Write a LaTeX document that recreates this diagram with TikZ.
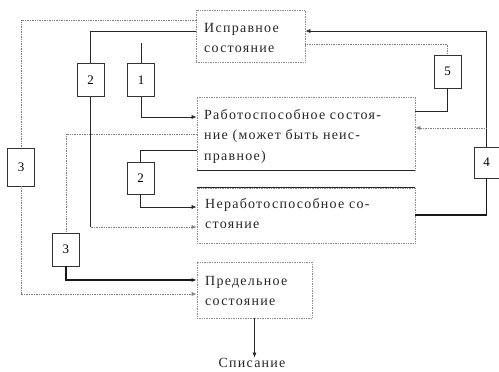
\documentclass[tikz,border=0pt]{standalone}
\usepackage{fontspec}
\setmainfont{Liberation Serif}[LetterSpace=9.0]
\usetikzlibrary{arrows.meta}
\begin{document}
\begin{tikzpicture}[x=1pt,y=-1pt,
  bigbox/.style={draw=black!45, densely dotted, line width=0.7pt, inner sep=0pt},
  numbox/.style={draw=black!80, line width=0.6pt, inner sep=0pt, minimum width=27pt, minimum height=33pt, font=\fontsize{13}{15}\selectfont},
  boxtext/.style={anchor=base west, inner sep=0pt, align=left, text width=215pt, text=black!85, font=\fontsize{14}{20.7}\selectfont},
  dotline/.style={draw=black!50, densely dotted, line width=0.7pt},
  solidline/.style={draw=black!85, line width=0.6pt},
  thickline/.style={draw=black!90, line width=1.1pt},
  tip/.style={-{Latex[length=5pt,width=4pt]}}
]
\useasboundingbox (0,0) rectangle (499,372);
% level coordinates
\coordinate (y20) at (0,20);
\coordinate (y31) at (0,31);
\coordinate (y44) at (0,44);
\coordinate (y111) at (0,111);
\coordinate (y117) at (0,117);
\coordinate (y128) at (0,128);
\coordinate (y134) at (0,134);
\coordinate (y150) at (0,150);
\coordinate (y207) at (0,207);
\coordinate (y215) at (0,215);
\coordinate (y227) at (0,227);
\coordinate (y280) at (0,280);
\coordinate (y294) at (0,294);
% big boxes
\node[bigbox, minimum width=109pt, minimum height=52pt] (isp) at (250.5,36) {};
\node[bigbox, minimum width=218pt, minimum height=73pt] (rab) at (306,133.5) {};
\node[bigbox, minimum width=218pt, minimum height=55pt] (nerab) at (306,215.5) {};
\node[bigbox, minimum width=115pt, minimum height=56pt] (pred) at (254.5,290) {};
\draw[solidline] (rab.south west) -- (rab.south east);
\draw[solidline] (nerab.north west) -- (nerab.north east);
% texts
\node[boxtext] (tisp) at (204,32) {Исправное\\состояние};
\node[boxtext] (trab) at (204,119) {Работоспособное состоя-\\ние (может быть неис-\\правное)};
\node[boxtext] (tnerab) at (205,208) {Неработоспособное со-\\стояние};
\node[boxtext] (tpred) at (205,285) {Предельное\\состояние};
\node[anchor=base, inner sep=0pt, text=black!85, font=\fontsize{14}{16}\selectfont] (spis) at (252,367) {Списание};
% number boxes
\node[numbox] (b2a) at (90.5,80) {2};
\node[numbox] (b1) at (141,80) {1};
\node[numbox, minimum height=38pt] (b3L) at (21,167) {3};
\node[numbox, minimum height=32pt] (b2b) at (140.5,178) {2};
\node[numbox] (b3M) at (66,249.5) {3};
\node[numbox] (b5) at (447.5,71.5) {5};
\node[numbox, minimum width=25pt, minimum height=31pt] (b4) at (486.5,162.5) {4};
% connectors
\draw[dotline] (isp.west |- y20) -| (b3L.north);
\draw[dotline, tip] (b3L.south) |- (pred.west |- y294);
\draw[solidline] (isp.west |- y31) -| (b2a.north);
\draw[solidline] (b2a.south) -- (b2a.south |- y227);
\draw[dotline, tip] (b2a.south |- y227) -- (nerab.west |- y227);
\coordinate (b1top) at (141,43);
\draw[solidline] (b1top) -- (b1.north);
\draw[solidline, tip] (b1.south) |- (rab.west |- y117);
\draw[dotline] (rab.west |- y134) -| (b3M.north);
\draw[thickline, tip] (b3M.south) |- (pred.west |- y280);
\draw[solidline] (rab.west |- y150) -| (b2b.north);
\draw[solidline, tip] (b2b.south) |- (nerab.west |- y207);
\draw[dotline] (isp.east |- y44) -| (b5.north);
\draw[solidline] (b5.south) |- (rab.east |- y111);
\draw[solidline, tip] (b4.north) |- (isp.east |- y31);
\draw[dotline, tip] (b4.north |- y128) -- (rab.east |- y128);
\draw[thickline] (b4.south) |- (nerab.east |- y215);
\draw[solidline, tip] (pred.south) -- (pred.south |- spis.north);
\end{tikzpicture}
\end{document}
